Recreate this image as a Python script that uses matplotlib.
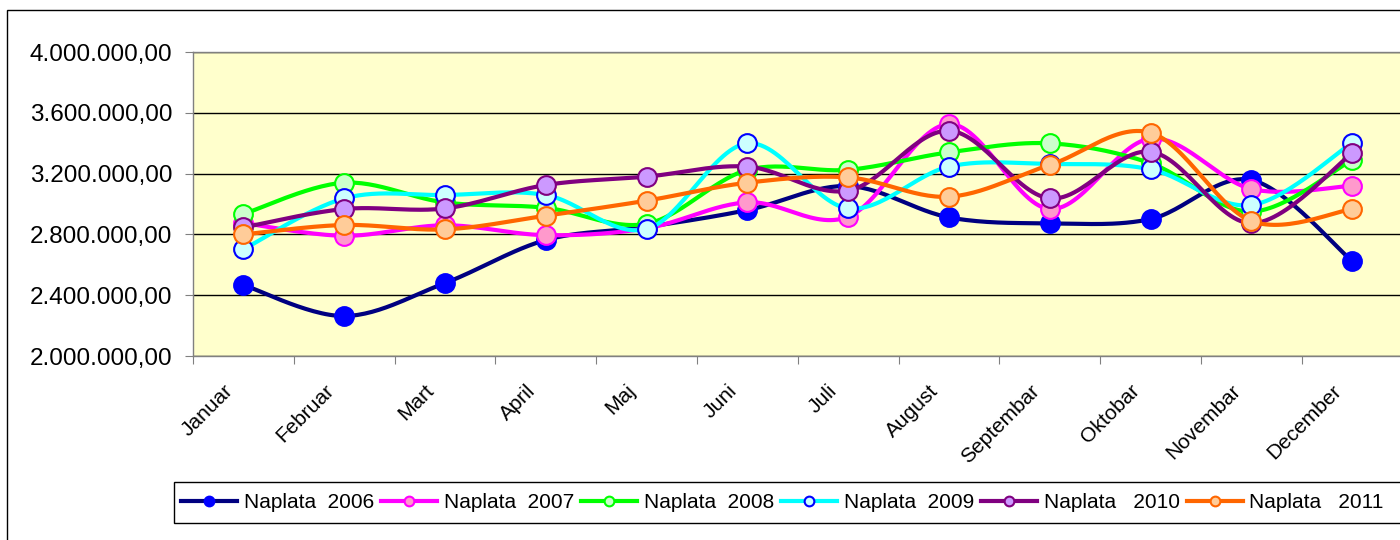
import numpy as np
import matplotlib
matplotlib.use("Agg")
import matplotlib.pyplot as plt
from matplotlib.patches import Rectangle
from matplotlib.ticker import FuncFormatter, FixedLocator, MultipleLocator
import matplotlib.transforms as mtransforms

plt.rcParams['font.family'] = ['Liberation Sans', 'DejaVu Sans']

months = ['Januar', 'Februar', 'Mart', 'April', 'Maj', 'Juni', 'Juli',
          'August', 'Septembar', 'Oktobar', 'Novembar', 'December']

n2006 = [2467000, 2263000, 2480000, 2763000, 2849000, 2960000, 3118000, 2912000, 2873000, 2901000, 3158000, 2625000]
n2007 = [2875000, 2791000, 2860000, 2795000, 2840000, 3011000, 2916000, 3526000, 2967000, 3430000, 3099000, 3120000]
n2008 = [2934000, 3140000, 3010000, 2975000, 2870000, 3224000, 3225000, 3340000, 3399000, 3268000, 2950000, 3290000]
n2009 = [2702000, 3037000, 3059000, 3059000, 2835000, 3399000, 2971000, 3246000, 3263000, 3228000, 2993000, 3403000]
n2010 = [2846000, 2967000, 2971000, 3125000, 3180000, 3246000, 3088000, 3482000, 3037000, 3344000, 2873000, 3333000]
n2011 = [2800000, 2862000, 2833000, 2923000, 3022000, 3140000, 3175000, 3048000, 3257000, 3469000, 2888000, 2967000]

labels = ['Naplata  2006', 'Naplata  2007', 'Naplata  2008',
          'Naplata  2009', 'Naplata   2010', 'Naplata   2011']
series = [n2006, n2007, n2008, n2009, n2010, n2011]
# line colour, marker face, marker edge
styles = [('#000080', '#0000FF', '#0000FF'),
          ('#FF00FF', '#FF99CC', '#FF00FF'),
          ('#00FF00', '#CCFFCC', '#00FF00'),
          ('#00FFFF', '#CCFFFF', '#0000FF'),
          ('#800080', '#CC99FF', '#800080'),
          ('#FF6600', '#FFCC99', '#FF6600')]


def smooth(x, y, n=30):
    # excel-like smoothed line: bezier segments with catmull-rom control points
    x = np.asarray(x, float)
    y = np.asarray(y, float)
    px = np.concatenate([[x[0]], x, [x[-1]]])
    py = np.concatenate([[y[0]], y, [y[-1]]])
    t = np.linspace(0, 1, n)
    xs, ys = [], []
    for i in range(len(x) - 1):
        x0, y0 = px[i + 1], py[i + 1]
        x3, y3 = px[i + 2], py[i + 2]
        x1 = x0 + (px[i + 2] - px[i]) / 6
        y1 = y0 + (py[i + 2] - py[i]) / 6
        x2 = x3 - (px[i + 3] - px[i + 1]) / 6
        y2 = y3 - (py[i + 3] - py[i + 1]) / 6
        b0 = (1 - t) ** 3
        b1 = 3 * (1 - t) ** 2 * t
        b2 = 3 * (1 - t) * t ** 2
        b3 = t ** 3
        xs.append(b0 * x0 + b1 * x1 + b2 * x2 + b3 * x3)
        ys.append(b0 * y0 + b1 * y1 + b2 * y2 + b3 * y3)
    return np.concatenate(xs), np.concatenate(ys)


fig = plt.figure(figsize=(14, 5.4), dpi=100)
fig.patches.append(Rectangle((7 / 1400, -0.1), 1.2, 0.1 + 530 / 540, transform=fig.transFigure,
                             facecolor='none', edgecolor='black', linewidth=1))

ax = fig.add_axes([193 / 1400, 184 / 540, 1209.6 / 1400, 304 / 540])
ax.set_facecolor('#FFFFCC')

x = np.arange(len(months))
handles = []
for k, (vals, lab, (lc, mf, me)) in enumerate(zip(series, labels, styles)):
    sx, sy = smooth(x, vals)
    ax.plot(sx, sy, color=lc, linewidth=3, zorder=3 + 2 * k, solid_capstyle='round')
    ax.plot(x, vals, linestyle='none', marker='o', markersize=13.5,
            markerfacecolor=mf, markeredgecolor=me, markeredgewidth=1.5, zorder=4 + 2 * k)
    h, = ax.plot([], [], color=lc, linewidth=3, marker='o', markersize=7,
                 markerfacecolor=mf, markeredgecolor=me, markeredgewidth=1.5, label=lab)
    handles.append(h)

ax.set_xlim(-0.5, 11.5)
ax.set_ylim(2000000, 4000000)
ax.yaxis.set_major_locator(MultipleLocator(400000))
ax.yaxis.set_major_formatter(FuncFormatter(
    lambda v, p: f"{v:,.2f}".replace(',', 'X').replace('.', ',').replace('X', '.')))
ax.grid(axis='y', color='black', linewidth=1)
ax.set_axisbelow(True)

ax.xaxis.set_major_locator(FixedLocator(np.arange(-0.5, 12, 1)))
ax.xaxis.set_major_formatter(FuncFormatter(lambda v, p: ''))
ax.xaxis.set_minor_locator(FixedLocator(x))
ax.xaxis.set_minor_formatter(FuncFormatter(lambda v, p: months[int(round(v))]))
ax.tick_params(axis='x', which='minor', length=0, pad=18, labelsize=15, labelrotation=45)
ax.tick_params(axis='x', which='major', length=6, color='#808080', direction='out')
ax.tick_params(axis='y', length=6, color='#808080', direction='out', pad=9, labelsize=17.5)

offset = mtransforms.ScaledTranslation(-7 / 100, 0, fig.dpi_scale_trans)
for lbl in ax.get_xticklabels(minor=True):
    lbl.set_ha('right')
    lbl.set_va('top')
    lbl.set_transform(lbl.get_transform() + offset)

for s in ax.spines.values():
    s.set_color('#808080')
    s.set_linewidth(1)

fig.patches.append(Rectangle((174 / 1400, (540 - 523) / 540), 1.0, 41 / 540, transform=fig.transFigure,
                             facecolor='white', edgecolor='black', linewidth=1))
fig.legend(handles=handles, loc='center left', bbox_to_anchor=(181 / 1400, (540 - 502.5) / 540),
           ncol=6, frameon=False, fontsize=15, handlelength=2.7, handletextpad=0.3,
           columnspacing=0.35, borderpad=0, borderaxespad=0)

fig.savefig('out.png', dpi=100)
